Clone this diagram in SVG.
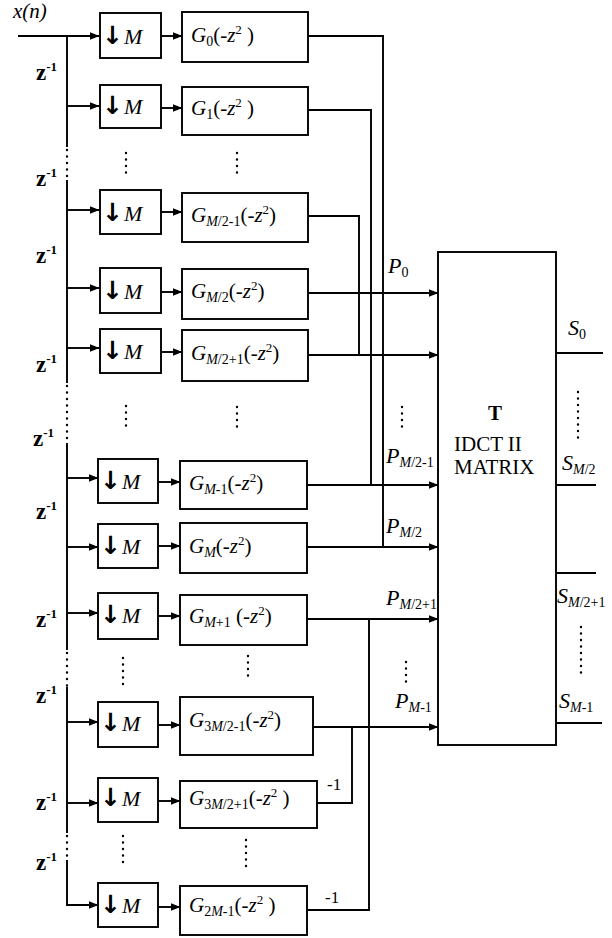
<svg xmlns="http://www.w3.org/2000/svg" width="612" height="938" viewBox="0 0 612 938">
<style>
.box{fill:#fff;stroke:#000;stroke-width:1.9}
.ln{fill:none;stroke:#000;stroke-width:1.9}
.dot{fill:none;stroke:#000;stroke-width:2.4;stroke-linecap:round;stroke-dasharray:0 6.5}
.arr{marker-end:url(#ah)}
text{font-family:"Liberation Serif","Times New Roman",serif;font-size:21px;fill:#000}
.it{font-style:italic}
.sub{font-size:14px}
.sup{font-size:13px}
.z{font-weight:bold;font-size:23px}
.zs{font-weight:bold;font-size:13px}
.dn{font-family:"DejaVu Sans",sans-serif;font-size:25px;font-weight:bold}
.m{font-size:22px;font-style:italic}
.m1{font-size:17px}
.pl{font-size:22px}
</style>
<defs>
<marker id="ah" markerWidth="10" markerHeight="8" refX="9.5" refY="4" orient="auto" markerUnits="userSpaceOnUse">
<path d="M0,0 L10,4 L0,8 z" fill="#000"/>
</marker>
</defs>

<g id="input">
<text x="13" y="18" class="it" font-size="22">x(n)</text>
</g>

<g id="connectors">
<path class="ln arr" d="M18,36 H99"/>
<path class="ln" d="M67,36 V147"/>
<path class="dot" d="M67,150 V180"/>
<path class="ln" d="M67,180 V383"/>
<path class="dot" d="M67,386 V443"/>
<path class="ln" d="M67,443 V650"/>
<path class="dot" d="M67,653 V687"/>
<path class="ln" d="M67,687 V833"/>
<path class="dot" d="M67,836 V860"/>
<path class="ln arr" d="M67,860 V905 H98"/>
<path class="ln arr" d="M67,106 H99"/>
<path class="ln arr" d="M67,210 H99"/>
<path class="ln arr" d="M67,288 H99"/>
<path class="ln arr" d="M67,348 H99"/>
<path class="ln arr" d="M67,478 H98"/>
<path class="ln arr" d="M67,547 H98"/>
<path class="ln arr" d="M67,613 H98"/>
<path class="ln arr" d="M67,722 H98"/>
<path class="ln arr" d="M67,803 H98"/>
<path class="ln arr" d="M161,36 H182"/>
<path class="ln arr" d="M161,108 H182"/>
<path class="ln arr" d="M161,212 H182"/>
<path class="ln arr" d="M161,292 H182"/>
<path class="ln arr" d="M161,352 H182"/>
<path class="ln arr" d="M158,482 H180"/>
<path class="ln arr" d="M158,546 H180"/>
<path class="ln arr" d="M158,616 H180"/>
<path class="ln arr" d="M158,725 H180"/>
<path class="ln arr" d="M158,801 H180"/>
<path class="ln arr" d="M158,907 H180"/>
<path class="ln" d="M308,36 H383 V547"/>
<path class="ln" d="M308,110 H371 V485"/>
<path class="ln" d="M308,216 H359 V355"/>
<path class="ln arr" d="M308,293 H438"/>
<path class="ln arr" d="M308,355 H438"/>
<path class="ln arr" d="M307,485 H438"/>
<path class="ln arr" d="M307,547 H438"/>
<path class="ln arr" d="M307,619 H438"/>
<path class="ln arr" d="M313,727 H438"/>
<path class="ln" d="M317,803 H352 V727"/>
<path class="ln" d="M307,910 H369 V619"/>
<path class="ln" d="M556,353 H603"/>
<path class="ln" d="M556,485 H596"/>
<path class="ln" d="M556,573 H596"/>
<path class="ln" d="M556,723 H602"/>
</g>

<g id="delay-labels">
<text x="36" y="80"><tspan class="z">z</tspan><tspan class="zs" dy="-9">-1</tspan></text>
<text x="36" y="186"><tspan class="z">z</tspan><tspan class="zs" dy="-9">-1</tspan></text>
<text x="36" y="263"><tspan class="z">z</tspan><tspan class="zs" dy="-9">-1</tspan></text>
<text x="36" y="372"><tspan class="z">z</tspan><tspan class="zs" dy="-9">-1</tspan></text>
<text x="33" y="446"><tspan class="z">z</tspan><tspan class="zs" dy="-9">-1</tspan></text>
<text x="36" y="519"><tspan class="z">z</tspan><tspan class="zs" dy="-9">-1</tspan></text>
<text x="36" y="627"><tspan class="z">z</tspan><tspan class="zs" dy="-9">-1</tspan></text>
<text x="36" y="703"><tspan class="z">z</tspan><tspan class="zs" dy="-9">-1</tspan></text>
<text x="36" y="810"><tspan class="z">z</tspan><tspan class="zs" dy="-9">-1</tspan></text>
<text x="36" y="870"><tspan class="z">z</tspan><tspan class="zs" dy="-9">-1</tspan></text>
</g>

<g id="dec0"><rect class="box" x="100" y="13" width="61" height="45"/><text y="44"><tspan class="dn" x="102">↓</tspan><tspan class="m" x="124">M</tspan></text></g>
<g id="dec1"><rect class="box" x="100" y="85" width="61" height="43"/><text y="114"><tspan class="dn" x="102">↓</tspan><tspan class="m" x="124">M</tspan></text></g>
<g id="dec2"><rect class="box" x="100" y="190" width="61" height="44"/><text y="221"><tspan class="dn" x="102">↓</tspan><tspan class="m" x="124">M</tspan></text></g>
<g id="dec3"><rect class="box" x="100" y="268" width="61" height="45"/><text y="299"><tspan class="dn" x="102">↓</tspan><tspan class="m" x="124">M</tspan></text></g>
<g id="dec4"><rect class="box" x="100" y="329" width="61" height="44"/><text y="359"><tspan class="dn" x="102">↓</tspan><tspan class="m" x="124">M</tspan></text></g>
<g id="dec5"><rect class="box" x="98" y="459" width="60" height="44"/><text y="489"><tspan class="dn" x="100">↓</tspan><tspan class="m" x="122">M</tspan></text></g>
<g id="dec6"><rect class="box" x="98" y="524" width="60" height="44"/><text y="554"><tspan class="dn" x="100">↓</tspan><tspan class="m" x="122">M</tspan></text></g>
<g id="dec7"><rect class="box" x="98" y="593" width="60" height="46"/><text y="623"><tspan class="dn" x="100">↓</tspan><tspan class="m" x="122">M</tspan></text></g>
<g id="dec8"><rect class="box" x="98" y="702" width="60" height="45"/><text y="731"><tspan class="dn" x="100">↓</tspan><tspan class="m" x="122">M</tspan></text></g>
<g id="dec9"><rect class="box" x="98" y="778" width="60" height="44"/><text y="806"><tspan class="dn" x="100">↓</tspan><tspan class="m" x="122">M</tspan></text></g>
<g id="dec10"><rect class="box" x="98" y="883" width="60" height="44"/><text y="913"><tspan class="dn" x="100">↓</tspan><tspan class="m" x="122">M</tspan></text></g>

<g id="filt0"><rect class="box" x="182" y="12" width="126" height="50"/>
<text x="191" y="42"><tspan class="it">G</tspan><tspan class="sub" dy="4">0</tspan><tspan dy="-4">(-</tspan><tspan class="it">z</tspan><tspan class="sup" dy="-8">2</tspan><tspan dy="8"> )</tspan></text></g>
<g id="filt1"><rect class="box" x="182" y="87" width="126" height="48"/>
<text x="191" y="115"><tspan class="it">G</tspan><tspan class="sub" dy="4">1</tspan><tspan dy="-4">(-</tspan><tspan class="it">z</tspan><tspan class="sup" dy="-8">2</tspan><tspan dy="8"> )</tspan></text></g>
<g id="filt2"><rect class="box" x="182" y="193" width="126" height="49"/>
<text x="191" y="222"><tspan class="it">G</tspan><tspan class="sub" dy="4"><tspan class="it">M</tspan>/2-1</tspan><tspan dy="-4">(-</tspan><tspan class="it">z</tspan><tspan class="sup" dy="-8">2</tspan><tspan dy="8">)</tspan></text></g>
<g id="filt3"><rect class="box" x="182" y="269" width="126" height="50"/>
<text x="191" y="298"><tspan class="it">G</tspan><tspan class="sub" dy="4"><tspan class="it">M</tspan>/2</tspan><tspan dy="-4">(-</tspan><tspan class="it">z</tspan><tspan class="sup" dy="-8">2</tspan><tspan dy="8">)</tspan></text></g>
<g id="filt4"><rect class="box" x="182" y="330" width="126" height="51"/>
<text x="191" y="360"><tspan class="it">G</tspan><tspan class="sub" dy="4"><tspan class="it">M</tspan>/2+1</tspan><tspan dy="-4">(-</tspan><tspan class="it">z</tspan><tspan class="sup" dy="-8">2</tspan><tspan dy="8">)</tspan></text></g>
<g id="filt5"><rect class="box" x="180" y="461" width="127" height="48"/>
<text x="189" y="490"><tspan class="it">G</tspan><tspan class="sub" dy="4"><tspan class="it">M</tspan>-1</tspan><tspan dy="-4">(-</tspan><tspan class="it">z</tspan><tspan class="sup" dy="-8">2</tspan><tspan dy="8">)</tspan></text></g>
<g id="filt6"><rect class="box" x="180" y="523" width="127" height="50"/>
<text x="189" y="553"><tspan class="it">G</tspan><tspan class="sub it" dy="4">M</tspan><tspan dy="-4">(-</tspan><tspan class="it">z</tspan><tspan class="sup" dy="-8">2</tspan><tspan dy="8">)</tspan></text></g>
<g id="filt7"><rect class="box" x="180" y="595" width="127" height="50"/>
<text x="189" y="623"><tspan class="it">G</tspan><tspan class="sub" dy="4"><tspan class="it">M</tspan>+1</tspan><tspan dy="-4"> (-</tspan><tspan class="it">z</tspan><tspan class="sup" dy="-8">2</tspan><tspan dy="8">)</tspan></text></g>
<g id="filt8"><rect class="box" x="180" y="697" width="133" height="58"/>
<text x="189" y="727"><tspan class="it">G</tspan><tspan class="sub" dy="4">3<tspan class="it">M</tspan>/2-1</tspan><tspan dy="-4">(-</tspan><tspan class="it">z</tspan><tspan class="sup" dy="-8">2</tspan><tspan dy="8">)</tspan></text></g>
<g id="filt9"><rect class="box" x="180" y="781" width="137" height="47"/>
<text x="189" y="805"><tspan class="it">G</tspan><tspan class="sub" dy="4">3<tspan class="it">M</tspan>/2+1</tspan><tspan dy="-4">(-</tspan><tspan class="it">z</tspan><tspan class="sup" dy="-8">2</tspan><tspan dy="8"> )</tspan></text></g>
<g id="filt10"><rect class="box" x="180" y="886" width="127" height="49"/>
<text x="189" y="912"><tspan class="it">G</tspan><tspan class="sub" dy="4">2<tspan class="it">M</tspan>-1</tspan><tspan dy="-4">(-</tspan><tspan class="it">z</tspan><tspan class="sup" dy="-8">2</tspan><tspan dy="8"> )</tspan></text></g>

<g id="dots">
<path class="dot" d="M126,153 V173"/><path class="dot" d="M237,153 V173"/>
<path class="dot" d="M126,406 V426"/><path class="dot" d="M237,407 V427"/>
<path class="dot" d="M123,658 V686"/><path class="dot" d="M248,656 V676"/>
<path class="dot" d="M123,836 V864"/><path class="dot" d="M246,840 V867"/>
<path class="dot" d="M402,407 V427"/><path class="dot" d="M406,662 V682"/>
<path class="dot" d="M578,392 V438"/><path class="dot" d="M581,627 V674"/>
</g>

<g id="matrix">
<rect class="box" x="438" y="252" width="118" height="493"/>
<text x="495" y="420" text-anchor="middle" font-weight="bold" font-size="22">T</text>
<text x="454" y="451" font-size="19">IDCT II</text>
<text x="454" y="474" font-size="19">MATRIX</text>
</g>

<g id="labels">
<text x="388" y="273"><tspan class="it pl">P</tspan><tspan class="sub" dy="4">0</tspan></text>
<text x="386" y="463"><tspan class="it pl">P</tspan><tspan class="sub" dy="4"><tspan class="it">M</tspan>/2-1</tspan></text>
<text x="386" y="533"><tspan class="it pl">P</tspan><tspan class="sub" dy="4"><tspan class="it">M</tspan>/2</tspan></text>
<text x="386" y="605"><tspan class="it pl">P</tspan><tspan class="sub" dy="4"><tspan class="it">M</tspan>/2+1</tspan></text>
<text x="395" y="708"><tspan class="it pl">P</tspan><tspan class="sub" dy="4"><tspan class="it">M</tspan>-1</tspan></text>
<text x="568" y="335"><tspan class="it pl">S</tspan><tspan class="sub" dy="4">0</tspan></text>
<text x="562" y="470"><tspan class="it pl">S</tspan><tspan class="sub" dy="4"><tspan class="it">M</tspan>/2</tspan></text>
<text x="557" y="603"><tspan class="it pl">S</tspan><tspan class="sub" dy="4"><tspan class="it">M</tspan>/2+1</tspan></text>
<text x="559" y="708"><tspan class="it pl">S</tspan><tspan class="sub" dy="4"><tspan class="it">M</tspan>-1</tspan></text>
<text x="327" y="790" class="m1">-1</text>
<text x="325" y="903" class="m1">-1</text>
</g>
</svg>
